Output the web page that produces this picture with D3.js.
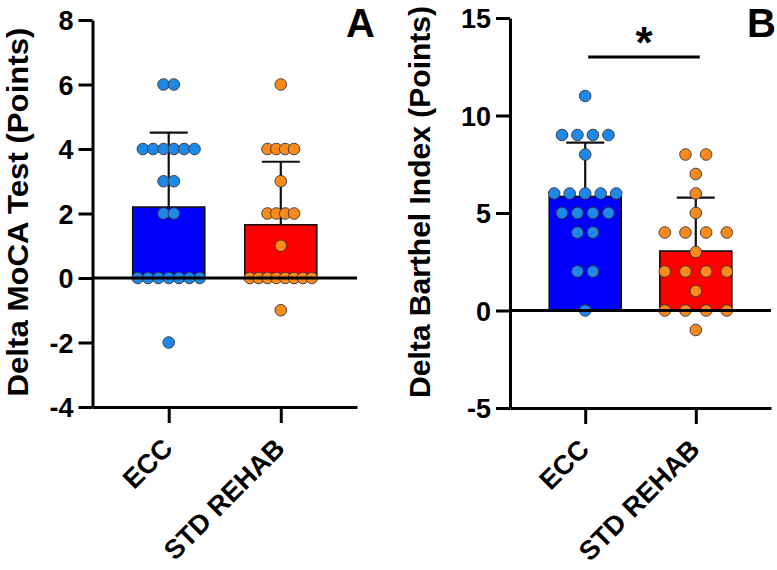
<!DOCTYPE html>
<html>
<head>
<meta charset="utf-8">
<script src="https://cdn.jsdelivr.net/npm/d3@7/dist/d3.min.js"></script>
<style>
  body { margin: 0; background: #fff; }
  svg { display: block; }
  text { font-family: "Liberation Sans", Arial, sans-serif; font-weight: bold; fill: #000; }
</style>
</head>
<body>
<svg id="chart" width="777" height="570"></svg>
<script>
// groups
var categories = ["ECC", "STD REHAB"];

// delta MoCA (points), one value per patient
var mocaECC = [6, 6, 4, 4, 4, 4, 4, 4, 3, 3, 2, 2, 0, 0, 0, 0, 0, 0, 0, -2];
var mocaSTD = [6, 4, 4, 4, 4, 3, 2, 2, 2, 2, 1, 0, 0, 0, 0, 0, 0, 0, 0, -1];

// delta Barthel index (points)
var barthelECC = [11, 9, 9, 9, 9, 8, 6, 6, 6, 6, 6, 5, 5, 5, 5, 4, 4, 2, 2, 0];
var barthelSTD = [8, 8, 7, 6, 5, 4, 4, 4, 4, 3, 2, 2, 2, 2, 1, 0, 0, 0, 0, -1];

var mocaTicks = [-4, -2, 0, 2, 4, 6, 8];
var barthelTicks = [-5, 0, 5, 10, 15];

var barColors = ["#0000ff", "#ff0000"];
var dotColors = ["#1e88e8", "#fb8a1c"];

var svg = d3.select("#chart");

var panels = [
  { letter: "A", title: "Delta MoCA Test (Points)", groups: [mocaECC, mocaSTD], ticks: mocaTicks,
    left: 92.5, right: 357, top: 20, bottom: 407, titleX: 28, titleY: 212, titleLen: 369,
    letterX: 346, sig: false },
  { letter: "B", title: "Delta Barthel Index (Points)", groups: [barthelECC, barthelSTD], ticks: barthelTicks,
    left: 510, right: 771, top: 18, bottom: 408, titleX: 430, titleY: 202, titleLen: 392,
    letterX: 747, sig: true }
];

var barW = 72, spread = 62, r = 5.8;

panels.forEach(function (p) {
  var g = svg.append("g");
  var y = d3.scaleLinear().domain(d3.extent(p.ticks)).range([p.bottom, p.top]);
  var x = d3.scalePoint().domain(categories).range([p.left, p.right]).padding(0.68);

  // bars = mean
  p.groups.forEach(function (vals, i) {
    var cx = x(categories[i]);
    var m = d3.mean(vals), sd = d3.deviation(vals);
    g.append("rect")
      .attr("x", cx - barW / 2).attr("width", barW)
      .attr("y", y(Math.max(m, 0))).attr("height", Math.abs(y(m) - y(0)))
      .attr("fill", barColors[i]).attr("stroke", "#111").attr("stroke-width", 1.6);
    // error bar, upward only
    g.append("line").attr("x1", cx).attr("x2", cx).attr("y1", y(m)).attr("y2", y(m + sd))
      .attr("stroke", "#111").attr("stroke-width", 2.2);
    g.append("line").attr("x1", cx - 19).attr("x2", cx + 19).attr("y1", y(m + sd)).attr("y2", y(m + sd))
      .attr("stroke", "#111").attr("stroke-width", 2.2);
  });

  // scatter of individual values, rows spread sideways
  p.groups.forEach(function (vals, i) {
    var cx = x(categories[i]);
    var rows = d3.groups(vals, function (v) { return v; });
    var maxN = d3.max(rows, function (d) { return d[1].length; });
    var step = spread / Math.max(maxN - 1, 1);
    var pts = [];
    rows.forEach(function (row) {
      var n = row[1].length;
      row[1].forEach(function (v, k) {
        pts.push({ v: v, dx: (k - (n - 1) / 2) * step });
      });
    });
    g.selectAll(null).data(pts).enter().append("circle")
      .attr("cx", function (d) { return cx + d.dx; })
      .attr("cy", function (d) { return y(d.v); })
      .attr("r", r)
      .attr("fill", dotColors[i]).attr("stroke", "#333").attr("stroke-width", 0.9);
  });

  // zero line
  g.append("line").attr("x1", p.left).attr("x2", p.right).attr("y1", y(0)).attr("y2", y(0))
    .attr("stroke", "#000").attr("stroke-width", 3);

  // y axis (plain hyphen for negatives, like the original)
  var ya = g.append("g").attr("transform", "translate(" + p.left + ",0)")
    .call(d3.axisLeft(y).tickValues(p.ticks).tickFormat(function (d) { return String(d); })
      .tickSize(14).tickSizeOuter(0).tickPadding(5));
  ya.attr("font-family", null);
  ya.select(".domain").attr("stroke-width", 3);
  ya.selectAll(".tick line").attr("stroke-width", 3);
  ya.selectAll(".tick text").attr("font-size", 27).attr("dy", "0.36em");

  // x axis
  var xa = g.append("g").attr("transform", "translate(0," + p.bottom + ")")
    .call(d3.axisBottom(x).tickSize(16).tickSizeOuter(0));
  xa.attr("font-family", null);
  xa.select(".domain").attr("stroke-width", 3);
  xa.selectAll(".tick line").attr("stroke-width", 3);
  xa.selectAll(".tick text")
    .attr("font-size", 27)
    .attr("text-anchor", "end").attr("x", 0).attr("y", 0).attr("dy", 0)
    .attr("transform", "translate(5,43) rotate(-45)");

  // axis title, squeezed to the reference length
  g.append("text")
    .attr("transform", "translate(" + p.titleX + "," + p.titleY + ") rotate(-90)")
    .attr("text-anchor", "middle").attr("font-size", 30)
    .attr("textLength", p.titleLen).attr("lengthAdjust", "spacingAndGlyphs")
    .text(p.title);

  // panel letter
  g.append("text").attr("x", p.letterX).attr("y", 37).attr("font-size", 40).text(p.letter);

  if (p.sig) {
    var x0 = x(categories[0]) + 3, x1 = x(categories[1]) + 4;
    g.append("line").attr("x1", x0).attr("x2", x1).attr("y1", y(13)).attr("y2", y(13))
      .attr("stroke", "#000").attr("stroke-width", 3.2);
    g.append("text").attr("x", (x0 + x1) / 2).attr("y", 58).attr("text-anchor", "middle")
      .attr("font-size", 44).text("*");
  }
});
</script>
</body>
</html>
